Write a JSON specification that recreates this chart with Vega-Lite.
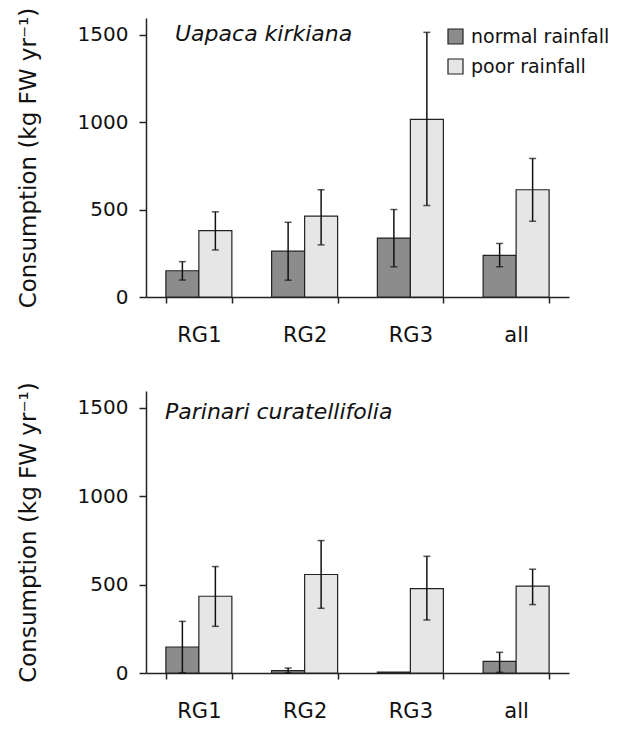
{
  "$schema": "https://vega.github.io/schema/vega-lite/v6.json",
  "padding": {"left": 17, "top": 7, "right": 5, "bottom": 5},
  "background": "white",
  "data": {"values": [
    {"species": "Uapaca kirkiana", "group": "RG1", "rain": "normal rainfall", "value": 150, "lo": 97, "hi": 202},
    {"species": "Uapaca kirkiana", "group": "RG1", "rain": "poor rainfall", "value": 380, "lo": 269, "hi": 487},
    {"species": "Uapaca kirkiana", "group": "RG2", "rain": "normal rainfall", "value": 262, "lo": 96, "hi": 427},
    {"species": "Uapaca kirkiana", "group": "RG2", "rain": "poor rainfall", "value": 462, "lo": 298, "hi": 613},
    {"species": "Uapaca kirkiana", "group": "RG3", "rain": "normal rainfall", "value": 337, "lo": 173, "hi": 500},
    {"species": "Uapaca kirkiana", "group": "RG3", "rain": "poor rainfall", "value": 1015, "lo": 523, "hi": 1513},
    {"species": "Uapaca kirkiana", "group": "all", "rain": "normal rainfall", "value": 238, "lo": 173, "hi": 306},
    {"species": "Uapaca kirkiana", "group": "all", "rain": "poor rainfall", "value": 613, "lo": 433, "hi": 792},
    {"species": "Parinari curatellifolia", "group": "RG1", "rain": "normal rainfall", "value": 147, "lo": 2, "hi": 292},
    {"species": "Parinari curatellifolia", "group": "RG1", "rain": "poor rainfall", "value": 434, "lo": 264, "hi": 602},
    {"species": "Parinari curatellifolia", "group": "RG2", "rain": "normal rainfall", "value": 13, "lo": 0, "hi": 28},
    {"species": "Parinari curatellifolia", "group": "RG2", "rain": "poor rainfall", "value": 557, "lo": 366, "hi": 749},
    {"species": "Parinari curatellifolia", "group": "RG3", "rain": "normal rainfall", "value": 5, "lo": null, "hi": null},
    {"species": "Parinari curatellifolia", "group": "RG3", "rain": "poor rainfall", "value": 477, "lo": 300, "hi": 660},
    {"species": "Parinari curatellifolia", "group": "all", "rain": "normal rainfall", "value": 66, "lo": 4, "hi": 117},
    {"species": "Parinari curatellifolia", "group": "all", "rain": "poor rainfall", "value": 491, "lo": 387, "hi": 587}
  ]},
  "config": {
    "view": {"stroke": null},
    "font": "DejaVu Sans",
    "axis": {
      "labelFont": "DejaVu Sans", "labelFontSize": 20, "labelColor": "#111",
      "domainColor": "#222", "domainWidth": 1.5, "tickColor": "#222", "tickWidth": 1.5,
      "grid": false, "titleFont": "DejaVu Sans", "titleFontSize": 23,
      "titleFontWeight": "normal", "titleColor": "#111"
    },
    "legend": {
      "orient": "none", "legendX": 300, "legendY": 9, "title": null,
      "symbolType": "square", "symbolSize": 225, "symbolStrokeColor": "#222",
      "symbolStrokeWidth": 1.2, "labelFontSize": 19, "labelFont": "DejaVu Sans",
      "labelColor": "#111", "labelOffset": 6, "rowPadding": 9, "labelLimit": 220
    }
  },
  "spacing": 36,
  "resolve": {"scale": {"fill": "independent"}, "legend": {"fill": "independent"}},
  "vconcat": [
    {
      "width": 423, "height": 279,
      "title": {"text": "Uapaca kirkiana", "anchor": "start", "frame": "group", "offset": 0, "dy": 49, "dx": 29, "baseline": "middle", "fontStyle": "italic", "fontWeight": "normal", "fontSize": 22, "font": "DejaVu Sans", "color": "#111"},
      "transform": [{"filter": "datum.species === 'Uapaca kirkiana'"}],
      "encoding": {
        "x": {"field": "group", "type": "nominal", "sort": ["RG1", "RG2", "RG3", "all"], "scale": {"paddingInner": 0.376, "paddingOuter": 0.188}, "axis": {"title": null, "labelAngle": 0, "tickBand": "extent", "tickSize": 6, "labelPadding": 21, "labelFontSize": 21}},
        "xOffset": {"field": "rain", "type": "nominal", "sort": ["normal rainfall", "poor rainfall"], "scale": {"paddingInner": 0, "paddingOuter": 0}}
      },
      "layer": [
        {"mark": {"type": "bar", "stroke": "#222", "strokeWidth": 1.2},
         "encoding": {
           "y": {"field": "value", "type": "quantitative", "title": "Consumption (kg FW yr⁻¹)", "scale": {"domain": [0, 1595], "nice": false}, "axis": {"values": [0, 500, 1000, 1500], "format": "d", "tickSize": 7, "labelPadding": 11, "titlePadding": 37}},
           "fill": {"field": "rain", "type": "nominal", "scale": {"domain": ["normal rainfall", "poor rainfall"], "range": ["#8c8c8c", "#e6e6e6"]}}
         }},
        {"mark": {"type": "rule", "color": "#111", "strokeWidth": 1.5},
         "encoding": {"y": {"field": "lo", "type": "quantitative", "title": "Consumption (kg FW yr⁻¹)"}, "y2": {"field": "hi"}}},
        {"mark": {"type": "tick", "color": "#111", "thickness": 1.5, "size": 7, "orient": "horizontal"},
         "encoding": {"y": {"field": "lo", "type": "quantitative", "title": "Consumption (kg FW yr⁻¹)"}}},
        {"mark": {"type": "tick", "color": "#111", "thickness": 1.5, "size": 7, "orient": "horizontal"},
         "encoding": {"y": {"field": "hi", "type": "quantitative", "title": "Consumption (kg FW yr⁻¹)"}}}
      ]
    },
    {
      "width": 423, "height": 282,
      "title": {"text": "Parinari curatellifolia", "anchor": "start", "frame": "group", "offset": 0, "dy": 52, "dx": 19, "baseline": "middle", "fontStyle": "italic", "fontWeight": "normal", "fontSize": 22, "font": "DejaVu Sans", "color": "#111"},
      "transform": [{"filter": "datum.species === 'Parinari curatellifolia'"}],
      "encoding": {
        "x": {"field": "group", "type": "nominal", "sort": ["RG1", "RG2", "RG3", "all"], "scale": {"paddingInner": 0.376, "paddingOuter": 0.188}, "axis": {"title": null, "labelAngle": 0, "tickBand": "extent", "tickSize": 6, "labelPadding": 21, "labelFontSize": 21}},
        "xOffset": {"field": "rain", "type": "nominal", "sort": ["normal rainfall", "poor rainfall"], "scale": {"paddingInner": 0, "paddingOuter": 0}}
      },
      "layer": [
        {"mark": {"type": "bar", "stroke": "#222", "strokeWidth": 1.2},
         "encoding": {
           "y": {"field": "value", "type": "quantitative", "title": "Consumption (kg FW yr⁻¹)", "scale": {"domain": [0, 1595], "nice": false}, "axis": {"values": [0, 500, 1000, 1500], "format": "d", "tickSize": 7, "labelPadding": 11, "titlePadding": 37}},
           "fill": {"field": "rain", "type": "nominal", "scale": {"domain": ["normal rainfall", "poor rainfall"], "range": ["#8c8c8c", "#e6e6e6"]}, "legend": null}
         }},
        {"mark": {"type": "rule", "color": "#111", "strokeWidth": 1.5},
         "encoding": {"y": {"field": "lo", "type": "quantitative", "title": "Consumption (kg FW yr⁻¹)"}, "y2": {"field": "hi"}}},
        {"mark": {"type": "tick", "color": "#111", "thickness": 1.5, "size": 7, "orient": "horizontal"},
         "encoding": {"y": {"field": "lo", "type": "quantitative", "title": "Consumption (kg FW yr⁻¹)"}}},
        {"mark": {"type": "tick", "color": "#111", "thickness": 1.5, "size": 7, "orient": "horizontal"},
         "encoding": {"y": {"field": "hi", "type": "quantitative", "title": "Consumption (kg FW yr⁻¹)"}}}
      ]
    }
  ]
}
